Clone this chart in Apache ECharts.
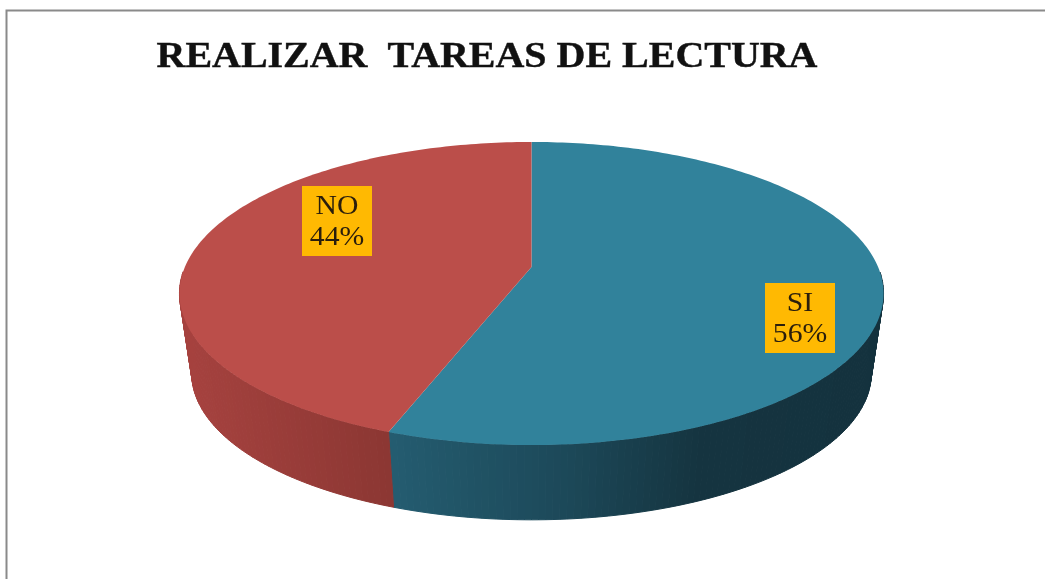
<!DOCTYPE html>
<html>
<head>
<meta charset="utf-8">
<script src="https://cdn.jsdelivr.net/npm/echarts@6/dist/echarts.min.js"></script>
<style>html,body{margin:0;padding:0;background:#fff}#c{width:1045px;height:579px}</style>
</head>
<body>
<div id="c"></div>
<script>
const chartTitle = 'REALIZAR  TAREAS DE LECTURA';
const categories = ['SI', 'NO'];
const shares = [55.6, 44.4];

// perspective disc geometry
const CX = 531.5, CY = 267, A = 146.9, B = 346.6, P = 0.175, DEPTH = 81, BASE = 0.965;
const topColors = ['#31829B', '#BB4E4A'];
const wallStops = [
  [[390, [36, 92, 112]], [570, [28, 72, 88]], [700, [21, 52, 64]], [880, [20, 50, 62]]],
  [[180, [166, 66, 63]], [385, [140, 55, 51]]]
];
const labelCenters = [[800, 318], [337, 221]];
const total = shares.reduce((a, b) => a + b, 0);

function sliceRange(i) {
  let start = 0;
  for (let k = 0; k < i; k++) start += shares[k] / total * 360;
  return [start, start + shares[i] / total * 360];
}
function project(deg, base) {
  const t = deg * Math.PI / 180, u = Math.sin(t), v = Math.cos(t), w = 1 + P * v;
  const s = base ? BASE : 1;
  return [CX + s * B * u / w, CY + (base ? DEPTH : 0) - s * A * v / w];
}
function wallColor(i, x) {
  const st = wallStops[i];
  let c = st[st.length - 1][1];
  if (x <= st[0][0]) c = st[0][1];
  else for (let k = 0; k < st.length - 1; k++) {
    if (x >= st[k][0] && x <= st[k + 1][0]) {
      const f = (x - st[k][0]) / (st[k + 1][0] - st[k][0]);
      c = st[k][1].map((a, j) => Math.round(a + (st[k + 1][1][j] - a) * f));
      break;
    }
  }
  return 'rgb(' + c.join(',') + ')';
}
function renderWall(params) {
  const i = params.dataIndex, r = sliceRange(i), children = [];
  for (let d = r[0]; d < r[1]; d += 1) {
    const e = Math.min(d + 1, r[1]);
    if (Math.cos((d + e) / 2 * Math.PI / 180) > -0.04) continue;
    const a = project(d, false), b = project(e, false), c = project(e, true), f = project(d, true);
    const col = wallColor(i, (a[0] + b[0]) / 2);
    children.push({ type: 'polygon', shape: { points: [a, b, c, f] }, style: { fill: col, stroke: col, lineWidth: 1 } });
  }
  return { type: 'group', children };
}
function renderTop(params, api) {
  const i = params.dataIndex, r = sliceRange(i), pts = [[CX, CY]];
  for (let d = r[0]; d < r[1]; d += 1) pts.push(project(d, false));
  pts.push(project(r[1], false));
  return { type: 'polygon', shape: { points: pts }, style: { fill: topColors[i] } };
}
function renderLabel(params) {
  const i = params.dataIndex, c = labelCenters[i];
  return {
    type: 'group',
    children: [
      { type: 'rect', shape: { x: c[0] - 35, y: c[1] - 35, width: 70, height: 70 }, style: { fill: '#FFB902' } },
      { type: 'text', x: c[0], y: c[1] + 1, scaleX: 1.1, style: {
          text: categories[i] + '\n' + Math.round(shares[i]) + '%',
          font: '27px "Liberation Serif"', lineHeight: 31, fill: '#2A1E0C', align: 'center', verticalAlign: 'middle' } }
    ]
  };
}
const rows = categories.map((n, i) => [n, shares[i]]);
const custom = (renderItem, z) => ({ type: 'custom', coordinateSystem: 'none', silent: true, z, data: rows, renderItem, animation: false });

const chart = echarts.init(document.getElementById('c'), null, { renderer: 'canvas' });
chart.setOption({
  animation: false,
  backgroundColor: '#fff',
  graphic: [
    { type: 'polyline', shape: { points: [[6.5, 579], [6.5, 10.5], [1045, 10.5]] }, style: { stroke: '#8A8A8A', lineWidth: 2, fill: null } },
    { type: 'text', x: 487, y: 58, scaleX: 1.11, style: { text: chartTitle, font: 'bold 36px "Liberation Serif"', fill: '#111', stroke: '#111', lineWidth: 0.4, align: 'center', verticalAlign: 'middle' } }
  ],
  series: [custom(renderWall, 1), custom(renderTop, 2), custom(renderLabel, 3)]
});
</script>
</body>
</html>
